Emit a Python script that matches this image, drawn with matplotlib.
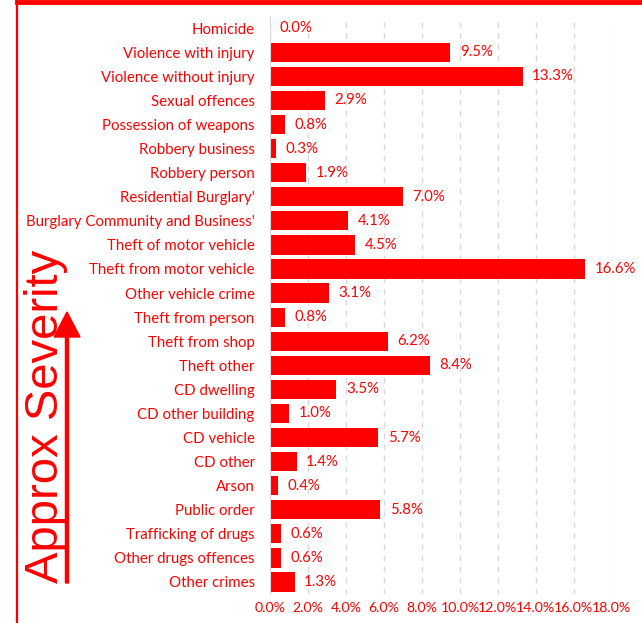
import matplotlib
matplotlib.use("Agg")
import matplotlib.pyplot as plt
from matplotlib.lines import Line2D
from matplotlib.patches import FancyArrow

categories = ["Homicide", "Violence with injury", "Violence without injury", "Sexual offences",
              "Possession of weapons", "Robbery business", "Robbery person", "Residential Burglary'",
              "Burglary Community and Business'", "Theft of motor vehicle", "Theft from motor vehicle",
              "Other vehicle crime", "Theft from person", "Theft from shop", "Theft other",
              "CD dwelling", "CD other building", "CD vehicle", "CD other", "Arson", "Public order",
              "Trafficking of drugs", "Other drugs offences", "Other crimes"]
values = [0.0, 9.5, 13.3, 2.9, 0.8, 0.3, 1.9, 7.0, 4.1, 4.5, 16.6, 3.1, 0.8, 6.2, 8.4,
          3.5, 1.0, 5.7, 1.4, 0.4, 5.8, 0.6, 0.6, 1.3]
xticks = [0, 2, 4, 6, 8, 10, 12, 14, 16, 18]

RED = "#FF0000"
font = "Lato"
FS = 10.8

fig = plt.figure(figsize=(6.42, 6.23), dpi=100)
ax = fig.add_axes([0.4206, 0.0465, 0.953 - 0.4206, 0.974 - 0.0465])

y = list(range(len(categories)))
ax.barh(y, values, height=0.8, color=RED)
ax.set_ylim(len(categories) - 0.5, -0.5)
ax.set_xlim(0, 18)
ax.set_xticks(xticks)
ax.set_xticklabels([f"{v:.1f}%" for v in xticks], color=RED, fontsize=10.2, family=font)
ax.set_yticks(y)
ax.set_yticklabels(categories, color=RED, fontsize=FS, family=font)
ax.tick_params(axis="y", length=0, pad=11)
ax.tick_params(axis="x", length=0, pad=6)
for s in ["top", "right", "bottom"]:
    ax.spines[s].set_visible(False)
ax.spines["left"].set_color("#D9D9D9")
ax.xaxis.grid(True, linestyle=(0, (4, 4)), color="#D9D9D9", linewidth=1)
ax.set_axisbelow(True)

for yi, v in zip(y, values):
    ax.text(v + 0.5, yi, f"{v:.1f}%", va="center", ha="left", color=RED, fontsize=FS, family=font)

# frame lines
fig.add_artist(Line2D([17 / 642, 17 / 642], [0, 1], color=RED, lw=1.6, transform=fig.transFigure))
fig.add_artist(Line2D([17 / 642, 1], [1 - 2 / 623, 1 - 2 / 623], color=RED, lw=3.5, transform=fig.transFigure))

# Approx Severity label and arrow
fig.text(46 / 642, 1 - 416 / 623, "Approx Severity", rotation=90, ha="center", va="center",
         color=RED, fontsize=34, family="Liberation Sans")
W, H = 642, 623
fig.add_artist(FancyArrow(67 / W, 1 - 583 / H, 0, (583 - 312) / H, width=3 / H,
                          head_width=26 / W, head_length=25 / H, length_includes_head=True,
                          color=RED, transform=fig.transFigure))

fig.savefig("out.png", dpi=100)
